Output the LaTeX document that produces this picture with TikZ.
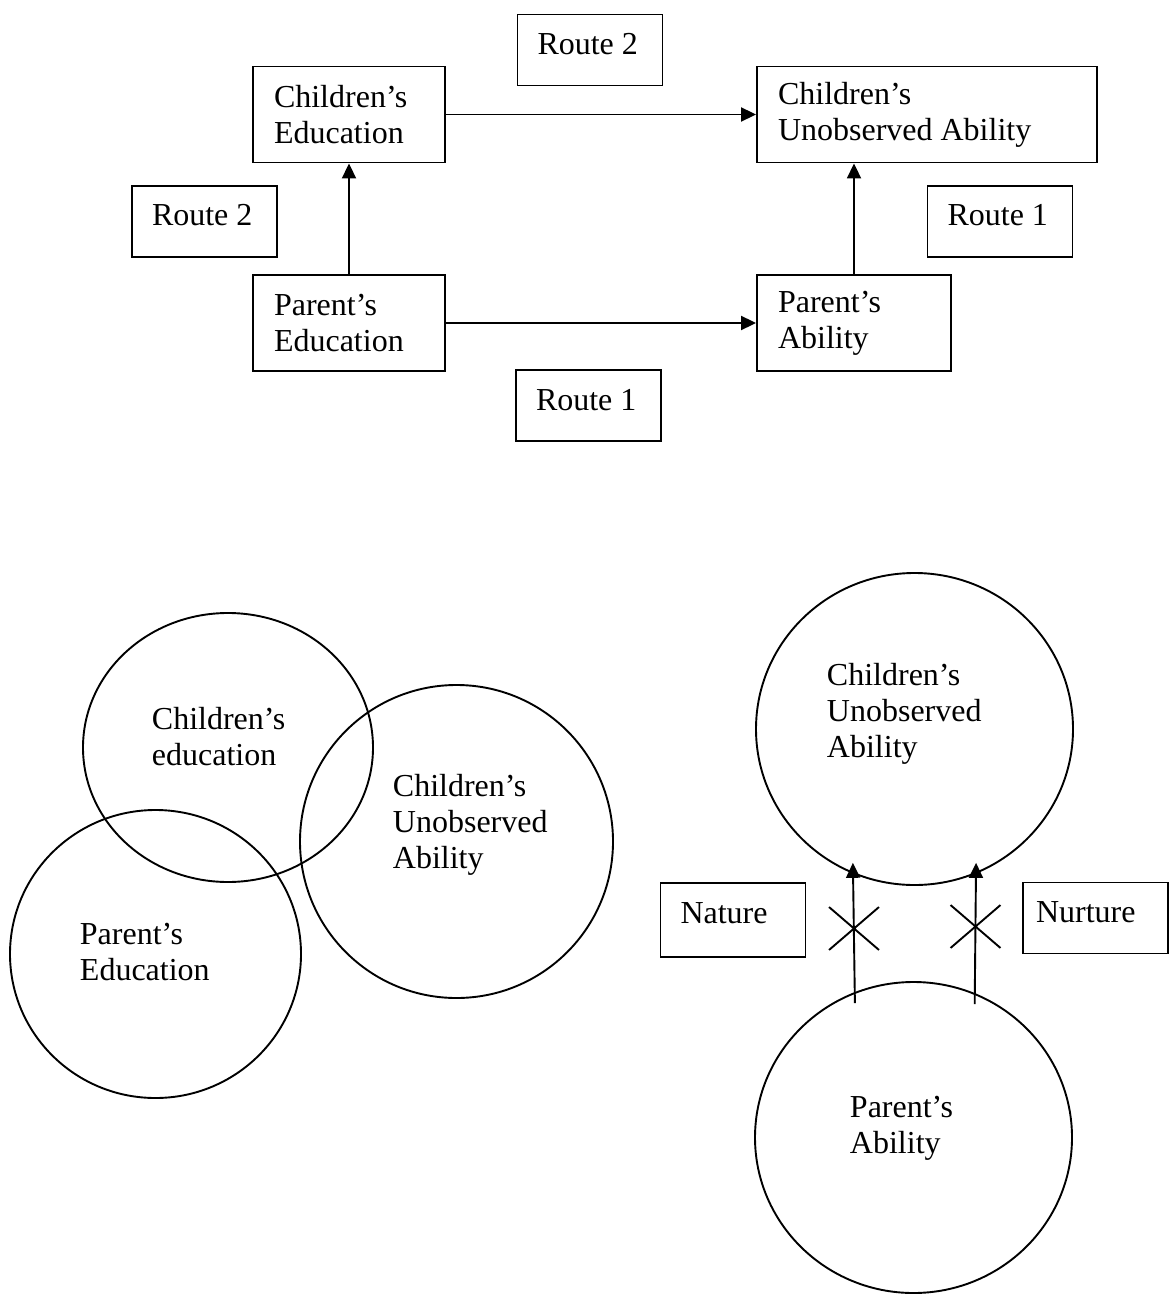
\documentclass[tikz,border=0pt]{standalone}
\usepackage{fontspec}
\setmainfont{Liberation Serif}
\usetikzlibrary{arrows.meta,shapes.geometric,shapes.misc}

\begin{document}
\begin{tikzpicture}[x=0.5pt, y=-0.5pt, line width=0.95pt,
  font=\fontsize{16}{18}\selectfont,
  box/.style={draw, align=flush left, inner xsep=10.5pt, inner ysep=0pt, minimum height=48pt},
  tag/.style={draw, align=flush left, inner xsep=10pt, inner ysep=0pt, text width=52.5pt, text height=20pt, text depth=15.5pt},
  ring/.style={draw, ellipse, inner sep=0pt},
  lbl/.style={align=flush left, inner sep=0pt, anchor=base west},
  arr/.style={-{Triangle[length=7.5pt, width=7pt]}},
  xmark/.style={draw, cross out, inner sep=0pt, minimum width=24pt, minimum height=20.5pt}]
  \useasboundingbox (0,0) rectangle (1168,1294);

  % Routes: education and ability boxes
  \node[tag] (rtTop) at (590,50) {Route 2};
  \node[box, text width=75pt] (ce) at (349,114.5) {Children's\\Education};
  \node[box, text width=149pt] (cua) at (927,114.5) {Children's\\Unobserved Ability};
  \node[tag] (rtLeft) at (204.5,221.5) {Route 2};
  \node[tag] (rtRight) at (1000,221.5) {Route 1};
  \node[box, text width=75pt] (pe) at (349,323) {Parent's\\Education};
  \node[box, text width=76pt] (pa) at (854,323) {Parent's\\Ability};
  \node[tag] (rtBot) at (588.5,405.5) {Route 1};

  \draw[arr] (ce) -- (cua);
  \draw[arr] (pe) -- (ce);
  \draw[arr] (pe) -- (pa);
  \draw[arr] (pa) -- (pa |- cua.south);

  % Overlapping circles (text placed by its last baseline)
  \node[ring, minimum width=145pt, minimum height=134.5pt] (vce) at (228,747.5) {};
  \node[ring, minimum size=156.5pt] (vcua) at (456.5,841.5) {};
  \node[ring, minimum width=145.5pt, minimum height=144pt] (vpe) at (155.5,954) {};
  \node[lbl] (vceT) at (151,765) {Children's\\education};
  \node[lbl] (vcuaT) at (392,868) {Children's\\Unobserved\\Ability};
  \node[lbl] (vpeT) at (79,980) {Parent's\\Education};

  % Nature / Nurture
  \node[ring, minimum width=158.5pt, minimum height=156pt] (ca) at (914.5,729) {};
  \node[ring, minimum width=158.5pt, minimum height=155.5pt] (pab) at (913.5,1137.5) {};
  \node[lbl] (caT) at (826,757) {Children's\\Unobserved\\Ability};
  \node[lbl] (pabT) at (849,1153) {Parent's\\Ability};
  \node[tag, text depth=17pt] (nature) at (733,920) {Nature};
  \node[tag, inner xsep=6.5pt, text width=59.5pt] (nurture) at (1095.5,918) {Nurture};
  \node[xmark] (xnat) at (854,928.5) {};
  \node[xmark] (xnur) at (975.5,926.5) {};

  \draw[arr, shorten <=-5.5pt, shorten >=-5.5pt] (pab.112.5) -- (ca.247.5);
  \draw[arr, shorten <=-5.5pt, shorten >=-5.5pt] (pab.67) -- (ca.293);
\end{tikzpicture}
\end{document}
